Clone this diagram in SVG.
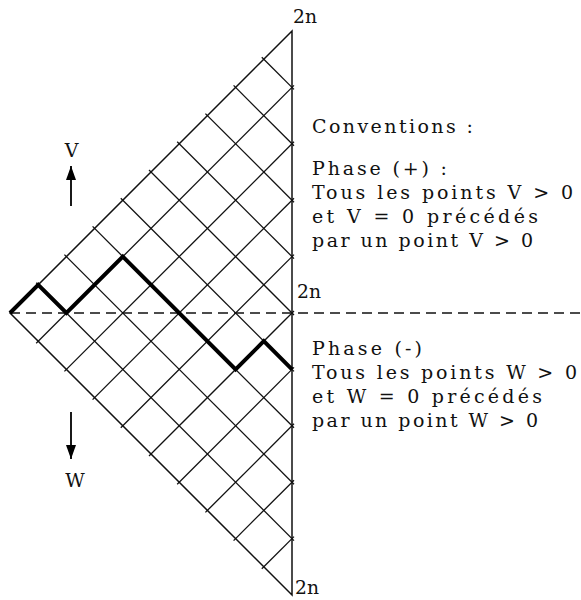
<svg xmlns="http://www.w3.org/2000/svg" width="581" height="600" viewBox="0 0 581 600">
<style>
.g{stroke:#111;stroke-width:1.3;fill:none}
.e{stroke:#111;stroke-width:1.5;fill:none}
.t{font-family:"DejaVu Serif","Liberation Serif",serif;font-size:19px;fill:#111}
.walk{stroke:#000;stroke-width:4;fill:none;stroke-linejoin:miter}
</style>
<defs>
<marker id="ah" viewBox="0 0 14 10" refX="14" refY="5" markerWidth="14" markerHeight="10" markerUnits="userSpaceOnUse" orient="auto"><path d="M0,0 L14,5 L0,10 z" fill="#000"/></marker>
</defs>
<rect width="581" height="600" fill="#fff"/>
<g id="grid">
<path class="e" d="M292,31 L10,313 L292,595 Z"/>
<g class="g">
<line x1="36.2" y1="343.2" x2="294" y2="85.4"/>
<line x1="64.4" y1="371.4" x2="294" y2="141.8"/>
<line x1="92.6" y1="399.6" x2="294" y2="198.2"/>
<line x1="120.8" y1="427.8" x2="294" y2="254.6"/>
<line x1="149" y1="456" x2="294" y2="311"/>
<line x1="177.2" y1="484.2" x2="294" y2="367.4"/>
<line x1="205.4" y1="512.4" x2="294" y2="423.8"/>
<line x1="233.6" y1="540.6" x2="294" y2="480.2"/>
<line x1="261.8" y1="568.8" x2="294" y2="536.6"/>
<line x1="36.2" y1="282.8" x2="294" y2="540.6"/>
<line x1="64.4" y1="254.6" x2="294" y2="484.2"/>
<line x1="92.6" y1="226.4" x2="294" y2="427.8"/>
<line x1="120.8" y1="198.2" x2="294" y2="371.4"/>
<line x1="149" y1="170" x2="294" y2="315"/>
<line x1="177.2" y1="141.8" x2="294" y2="258.6"/>
<line x1="205.4" y1="113.6" x2="294" y2="202.2"/>
<line x1="233.6" y1="85.4" x2="294" y2="145.8"/>
<line x1="261.8" y1="57.2" x2="294" y2="89.4"/>
</g>
</g>
<g id="axis">
<line x1="10" y1="313" x2="581" y2="313" stroke="#111" stroke-width="1.3" stroke-dasharray="10 6"/>
</g>
<g id="walk">
<polyline class="walk" points="10,313 38.2,284.8 66.4,313 122.8,256.6 235.6,369.4 263.8,341.2 292,369.4"/>
</g>
<g id="arrows">
<line x1="71" y1="206" x2="71" y2="166" stroke="#000" stroke-width="1.8" marker-end="url(#ah)"/>
<line x1="71" y1="412" x2="71" y2="459" stroke="#000" stroke-width="1.8" marker-end="url(#ah)"/>
</g>
<g id="labels">
<text class="t" x="293" y="23" textLength="24" lengthAdjust="spacingAndGlyphs">2n</text>
<text class="t" x="297" y="298" textLength="24" lengthAdjust="spacingAndGlyphs">2n</text>
<text class="t" x="295" y="594" textLength="24" lengthAdjust="spacingAndGlyphs">2n</text>
<text class="t" x="71.5" y="157" text-anchor="middle">V</text>
<text class="t" x="75" y="487" text-anchor="middle">W</text>
<text class="t" x="312" y="133" textLength="161" lengthAdjust="spacing">Conventions :</text>
<text class="t" x="312" y="175" textLength="135" lengthAdjust="spacing">Phase (+) :</text>
<text class="t" x="312" y="199" textLength="261" lengthAdjust="spacing">Tous les points V &gt; 0</text>
<text class="t" x="312" y="223" textLength="226" lengthAdjust="spacing">et V = 0 précédés</text>
<text class="t" x="312" y="247" textLength="221" lengthAdjust="spacing">par un point V &gt; 0</text>
<text class="t" x="312" y="355" textLength="110" lengthAdjust="spacing">Phase (-)</text>
<text class="t" x="312" y="379" textLength="265" lengthAdjust="spacing">Tous les points W &gt; 0</text>
<text class="t" x="312" y="403" textLength="230" lengthAdjust="spacing">et W = 0 précédés</text>
<text class="t" x="312" y="427" textLength="226" lengthAdjust="spacing">par un point W &gt; 0</text>
</g>
</svg>
